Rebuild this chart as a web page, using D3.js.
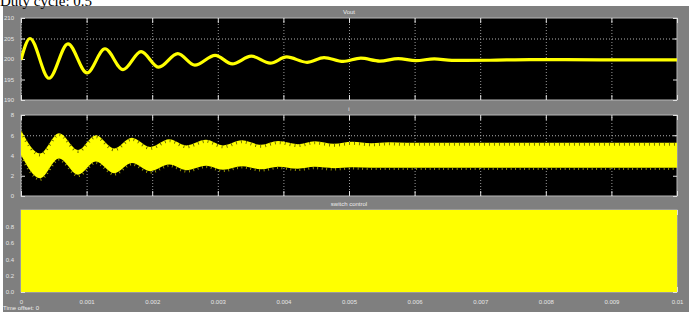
<!DOCTYPE html>
<html>
<head>
<meta charset="utf-8">
<script src="https://cdnjs.cloudflare.com/ajax/libs/d3/7.8.5/d3.min.js"></script>
<style>
  body { margin: 0; background: #fff; }
  svg { display: block; }
  .tick text { fill: #e6e6e6; font-family: 'Liberation Sans', Arial, sans-serif; font-size: 6px; }
</style>
</head>
<body>
<svg></svg>
<script>
const width = 693;
const height = 312;

// x axis (seconds)
const timeTicks = [0, 0.001, 0.002, 0.003, 0.004, 0.005, 0.006, 0.007, 0.008, 0.009, 0.01];
const timeTickLabels = ['0', '0.001', '0.002', '0.003', '0.004', '0.005', '0.006', '0.007', '0.008', '0.009', '0.01'];

// Vout, read at the peaks and troughs of the damped swing
const voutTime = [0, 0.000137, 0.000427, 0.000716, 0.001006, 0.00128, 0.001555, 0.00183, 0.0021,
  0.00239, 0.00265, 0.00296, 0.00322, 0.00351, 0.0038, 0.00405, 0.00436, 0.00462, 0.00491,
  0.00518, 0.00547, 0.00575, 0.00602, 0.0063, 0.00657, 0.00715, 0.00776, 0.00883, 0.01];
const voutValue = [199.8, 205.0, 195.3, 203.7, 196.6, 202.5, 197.4, 201.8, 198.0,
  201.3, 198.5, 200.9, 198.8, 200.7, 199.0, 200.5, 199.2, 200.35, 199.4,
  200.2, 199.5, 200.1, 199.6, 200.05, 199.65, 199.7, 199.85, 199.8, 199.8];
const voutTicks = [190, 195, 200, 205, 210];

// i, upper and lower edge of the ripple band
const currentTime = [0, 0.00029, 0.00058, 0.00087, 0.00114, 0.00142, 0.00169, 0.00197, 0.00226,
  0.00252, 0.00282, 0.00308, 0.00337, 0.00366, 0.00392, 0.00422, 0.00448, 0.00477, 0.00505,
  0.00534, 0.00561, 0.00588, 0.0065, 0.0075, 0.0085, 0.01];
const currentUpper = [6.5, 4.2, 6.2, 4.55, 6.0, 4.7, 5.75, 4.85, 5.6,
  5.0, 5.55, 5.0, 5.5, 5.05, 5.42, 5.12, 5.4, 5.15, 5.35,
  5.2, 5.3, 5.25, 5.25, 5.25, 5.25, 5.25];
const currentLower = [4.05, 1.75, 3.7, 2.1, 3.4, 2.25, 3.25, 2.45, 3.1,
  2.55, 3.0, 2.6, 2.95, 2.65, 2.9, 2.7, 2.88, 2.75, 2.85,
  2.8, 2.8, 2.8, 2.8, 2.8, 2.8, 2.8];
const currentTicks = [0, 2, 4, 6, 8];

// switch control, PWM too fast to resolve: fills 0..1
const switchTime = [0, 0.01];
const switchHigh = [1, 1];
const switchLow = [0, 0];
const switchTicks = [0, 0.2, 0.4, 0.6, 0.8];

const left = 21;
const right = 677;

const svg = d3.select('svg')
  .attr('width', width)
  .attr('height', height);

svg.append('rect')
  .attr('x', 3).attr('y', 6)
  .attr('width', 686).attr('height', height - 6)
  .attr('fill', '#7f7f7f');

svg.append('text')
  .attr('x', 0).attr('y', 6)
  .style('font-family', "'Liberation Serif', 'Times New Roman', serif")
  .style('font-size', '15px')
  .text('Duty cycle: 0.5');

const xScale = d3.scaleLinear()
  .domain([0, 0.01])
  .range([left, right]);

const panels = [
  { title: 'Vout', top: 18, bottom: 100, domain: [190, 210], ticks: voutTicks, gridAt: [205] },
  { title: 'i', top: 115, bottom: 196, domain: [0, 8], ticks: currentTicks, gridAt: [6] },
  { title: 'switch control', top: 210, bottom: 292, domain: [0, 1], ticks: switchTicks, gridAt: [] }
];

panels.forEach((p, k) => {
  const g = svg.append('g');
  const yScale = d3.scaleLinear().domain(p.domain).range([p.bottom, p.top]);
  p.yScale = yScale;
  p.g = g;

  g.append('text')
    .attr('x', (left + right) / 2)
    .attr('y', p.top - 4)
    .attr('text-anchor', 'middle')
    .attr('fill', '#ececec')
    .style('font-family', "'Liberation Sans', Arial, sans-serif")
    .style('font-size', '6px')
    .text(p.title);

  g.append('rect')
    .attr('x', left).attr('y', p.top)
    .attr('width', right - left).attr('height', p.bottom - p.top)
    .attr('fill', '#000')
    .attr('stroke', '#b8b8b8');

  // dotted grid
  g.append('g')
    .attr('transform', `translate(0, ${p.bottom})`)
    .call(d3.axisBottom(xScale).tickValues(timeTicks).tickSize(-(p.bottom - p.top)).tickFormat(''))
    .call(a => a.select('.domain').remove())
    .selectAll('line')
    .attr('stroke', '#9a9a9a')
    .attr('stroke-dasharray', '1,2');

  g.append('g')
    .attr('transform', `translate(${left}, 0)`)
    .call(d3.axisLeft(yScale).tickValues(p.gridAt).tickSize(-(right - left)).tickFormat(''))
    .call(a => a.select('.domain').remove())
    .selectAll('line')
    .attr('stroke', '#b0b0b0')
    .attr('stroke-dasharray', '1,2');

  // inward tick marks on all four sides
  g.append('g')
    .attr('transform', `translate(0, ${p.top})`)
    .call(d3.axisTop(xScale).tickValues(timeTicks).tickSize(-5).tickFormat(''))
    .call(a => a.select('.domain').remove())
    .selectAll('line').attr('stroke', '#e0e0e0');

  const bottomAxis = g.append('g')
    .attr('transform', `translate(0, ${p.bottom})`)
    .call(d3.axisBottom(xScale).tickValues(timeTicks).tickSize(-5).tickPadding(8)
      .tickFormat((d, i) => k === panels.length - 1 ? timeTickLabels[i] : ''));
  bottomAxis.select('.domain').remove();
  bottomAxis.selectAll('line').attr('stroke', '#e0e0e0');

  const leftAxis = g.append('g')
    .attr('transform', `translate(${left}, 0)`)
    .call(d3.axisLeft(yScale).tickValues(p.ticks).tickSize(-4).tickPadding(7));
  leftAxis.select('.domain').remove();
  leftAxis.selectAll('line').attr('stroke', '#e0e0e0');

  g.append('g')
    .attr('transform', `translate(${right}, 0)`)
    .call(d3.axisRight(yScale).tickValues(p.ticks).tickSize(-4).tickFormat(''))
    .call(a => a.select('.domain').remove())
    .selectAll('line').attr('stroke', '#e0e0e0');

  svg.append('clipPath')
    .attr('id', `clip${k}`)
    .append('rect')
    .attr('x', left).attr('y', p.top)
    .attr('width', right - left + 1).attr('height', p.bottom - p.top + 1);
});

// Vout
const vout = panels[0];
const voutLine = d3.line()
  .x((d, i) => xScale(voutTime[i]))
  .y(d => vout.yScale(d))
  .curve(d3.curveMonotoneX);

vout.g.append('path')
  .attr('clip-path', 'url(#clip0)')
  .attr('d', voutLine(voutValue))
  .attr('fill', 'none')
  .attr('stroke', '#ffff00')
  .attr('stroke-width', 3.2);

// i
const cur = panels[1];
const currentArea = d3.area()
  .x((d, i) => xScale(currentTime[i]))
  .y0((d, i) => cur.yScale(currentLower[i]))
  .y1((d, i) => cur.yScale(currentUpper[i]))
  .curve(d3.curveMonotoneX);

cur.g.append('path')
  .attr('clip-path', 'url(#clip1)')
  .attr('d', currentArea(currentTime))
  .attr('fill', '#ffff00');

// ripple spikes along the band edges
const upperEdge = d3.line()
  .x((d, i) => xScale(currentTime[i]))
  .y((d, i) => cur.yScale(currentUpper[i]) + 1.5)
  .curve(d3.curveMonotoneX);
const lowerEdge = d3.line()
  .x((d, i) => xScale(currentTime[i]))
  .y((d, i) => cur.yScale(currentLower[i]) + 1.2)
  .curve(d3.curveMonotoneX);

cur.g.append('path')
  .attr('clip-path', 'url(#clip1)')
  .attr('d', upperEdge(currentTime))
  .attr('fill', 'none')
  .attr('stroke', '#555500')
  .attr('stroke-width', 3)
  .attr('stroke-dasharray', '0.8,4.2');

cur.g.append('path')
  .attr('clip-path', 'url(#clip1)')
  .attr('d', lowerEdge(currentTime))
  .attr('fill', 'none')
  .attr('stroke', '#b5b500')
  .attr('stroke-width', 2.5)
  .attr('stroke-dasharray', '0.8,3.7');

// switch control
const sw = panels[2];
const switchArea = d3.area()
  .x((d, i) => xScale(switchTime[i]))
  .y0((d, i) => sw.yScale(switchLow[i]))
  .y1((d, i) => sw.yScale(switchHigh[i]));

sw.g.append('path')
  .attr('d', switchArea(switchTime))
  .attr('fill', '#ffff00');

svg.append('text')
  .attr('x', 3).attr('y', 310)
  .attr('fill', '#f0f0f0')
  .style('font-family', "'Liberation Sans', Arial, sans-serif")
  .style('font-size', '6px')
  .text('Time offset:  0');
</script>
</body>
</html>
